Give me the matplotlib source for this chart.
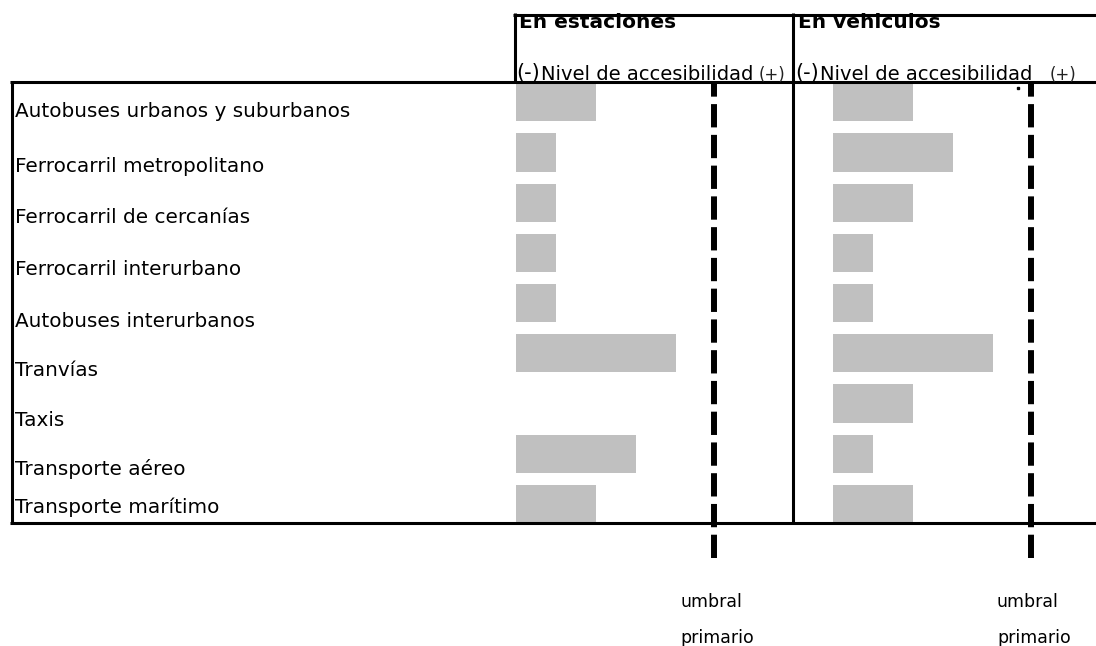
#!/usr/bin/python3

import matplotlib
matplotlib.use('Agg')
import matplotlib.pyplot as plt
from matplotlib.lines import Line2D

# Transport modes and accessibility level (bar length in units)
modes = ['Autobuses urbanos y suburbanos', 'Ferrocarril metropolitano',
	'Ferrocarril de cercanías', 'Ferrocarril interurbano',
	'Autobuses interurbanos', 'Tranvías', 'Taxis',
	'Transporte aéreo', 'Transporte marítimo']
en_estaciones = [2, 1, 1, 1, 1, 4, 0, 3, 2]
en_vehiculos = [2, 3, 2, 1, 1, 4, 2, 1, 2]
umbral_primario = 4.95

panel_titles = ['En estaciones', 'En vehiculos']
threshold_label = ['umbral', 'primario']

W, H = 1096, 646
UNIT = 40.0       # px per accessibility unit
ROW0 = 102.3      # px centre of first row
ROW = 50.2        # px between rows
TOP, BOTTOM = 81, 523
LW = 2.2


def fx(x):
	return x / W


def fy(y):
	return 1 - y / H


def hline(fig, y, x0, x1, lw=LW):
	fig.add_artist(Line2D([fx(x0), fx(x1)], [fy(y), fy(y)], color='black', lw=lw,
		solid_capstyle='butt'))


def vline(fig, x, y0, y1, lw=LW):
	fig.add_artist(Line2D([fx(x), fx(x)], [fy(y0), fy(y1)], color='black', lw=lw,
		solid_capstyle='butt'))


def panel(fig, left_px, right_px, start_px, values, title, plus_px):
	''' One block of bars with its dashed threshold line'''

	ax = fig.add_axes([fx(left_px), fy(BOTTOM), (right_px - left_px) / W, (BOTTOM - TOP) / H])
	ax.set_xlim((left_px - start_px) / UNIT, (right_px - start_px) / UNIT)
	ax.set_ylim((BOTTOM - ROW0) / ROW, (TOP - ROW0) / ROW)
	ax.barh(range(len(values)), values, height=0.76, color='#c0c0c0')

	span = BOTTOM - TOP
	ax.axvline(umbral_primario, ymin=-(558 - BOTTOM) / span, ymax=(BOTTOM - 82) / span,
		color='black', lw=4.3, linestyle=(0, (3.9, 1.25)), clip_on=False)
	ax.axis('off')

	# header texts
	fig.text(fx(left_px + 5), fy(28.5), title, fontsize=14.5, fontweight='bold', va='baseline')
	fig.text(fx(left_px + 2), fy(79.5), '(-)', fontsize=15, va='baseline')
	fig.text(fx(left_px + 27), fy(79.5), 'Nivel de accesibilidad', fontsize=14, va='baseline')
	fig.text(fx(plus_px), fy(79.5), '(+)', fontsize=12, va='baseline', color='#222222')

	# threshold caption
	xt = start_px + umbral_primario * UNIT - 34
	fig.text(fx(xt), fy(607), threshold_label[0], fontsize=12.5, va='baseline')
	fig.text(fx(xt), fy(643), threshold_label[1], fontsize=12.5, va='baseline')

	return ax


def main():

	fig = plt.figure(figsize=(W / 100, H / 100), dpi=100)

	panel(fig, 514, 793, 516, en_estaciones, panel_titles[0], 759)
	panel(fig, 793, W, 833, en_vehiculos, panel_titles[1], 1050)

	# row labels
	label_y = [117, 172, 223, 275, 327, 376, 426, 475, 513]
	for name, y in zip(modes, label_y):
		fig.text(fx(15), fy(y), name, fontsize=14.4, va='baseline')

	# table frame
	hline(fig, 14.5, 513, W)
	vline(fig, 514.5, 13, 82)
	vline(fig, 793, 13, BOTTOM)
	hline(fig, 82, 10, W)
	vline(fig, 11.5, 80.5, 524)
	hline(fig, 522.5, 10, W)

	# stray dot in the original
	fig.add_artist(Line2D([fx(1018)], [fy(88)], marker='s', markersize=2, color='black', lw=0))

	plt.savefig('out.png', dpi=100)
	plt.close()

	return


if __name__ == '__main__':
	main()
